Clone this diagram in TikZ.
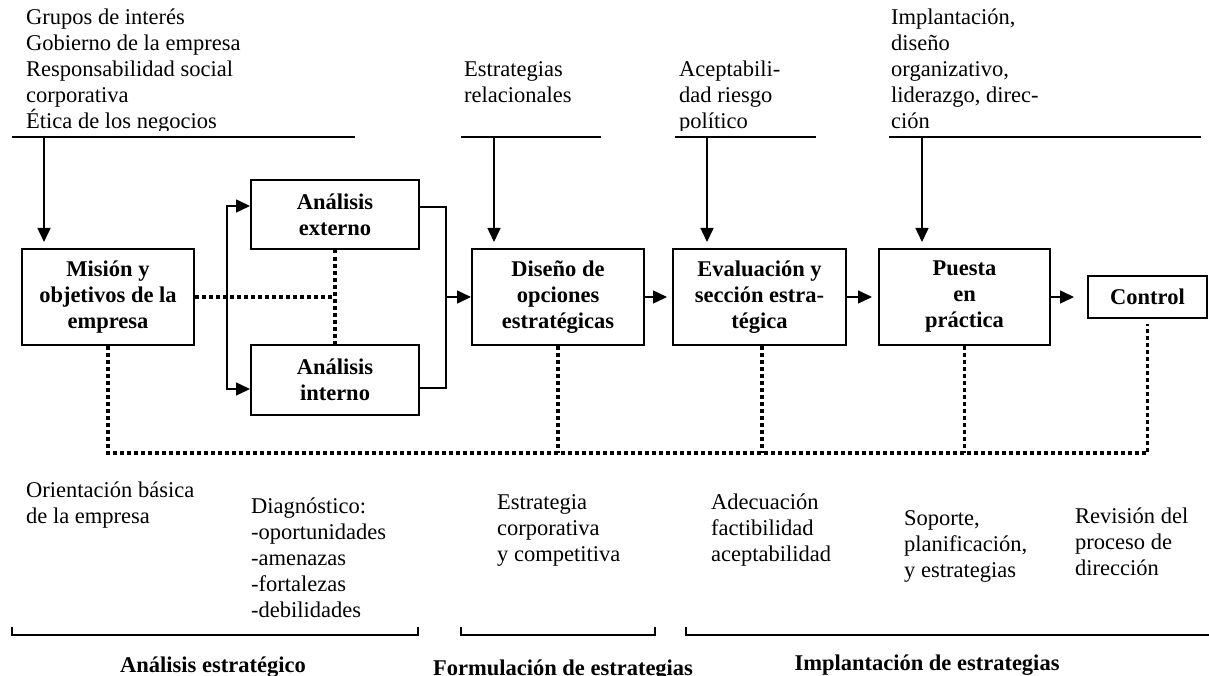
\documentclass[tikz,border=0pt]{standalone}
\usepackage{fontspec}
\setmainfont{Liberation Serif}
\usetikzlibrary{arrows.meta,calc}
\begin{document}
\begin{tikzpicture}[x=1pt,y=-1pt,
  box/.style={draw,line width=2pt,font=\fontsize{22.5}{26}\selectfont\bfseries,align=center,inner sep=0pt},
  txt/.style={font=\fontsize{22.5}{26}\selectfont,align=left,anchor=base west,inner sep=0pt},
  lbl/.style={font=\fontsize{22.5}{26}\selectfont\bfseries,anchor=base,inner sep=0pt},
  arr/.style={line width=1.5pt,-{Triangle[length=14pt,width=13pt]}},
  ln/.style={line width=1.5pt},
  dots/.style={line width=3.5pt,dash pattern=on 3.5pt off 3.5pt},
  brk/.style={line width=2pt}]
\useasboundingbox (0,0) rectangle (1209,676);

% top texts (clipped like the original text boxes); base = last line
\begin{scope}
\clip (0,0) rectangle (1209,130.5);
\node[txt] (tA) at (26,129) {Grupos de interés\\Gobierno de la empresa\\Responsabilidad social\\corporativa\\Ética de los negocios};
\node[txt] (tB) at (464,103) {Estrategias\\relacionales};
\node[txt] (tC) at (679,129) {Aceptabili-\\dad riesgo\\político};
\node[txt] (tD) at (891,129) {Implantación,\\diseño\\organizativo,\\liderazgo, direc-\\ción};
\end{scope}

% top lines
\coordinate (l1a) at (12,137);  \coordinate (l1b) at (355,137);
\coordinate (l2a) at (461,137); \coordinate (l2b) at (601,137);
\coordinate (l3a) at (675,137); \coordinate (l3b) at (816,137);
\coordinate (l4a) at (889,137); \coordinate (l4b) at (1201,137);
\draw[ln] (l1a) -- (l1b);
\draw[ln] (l2a) -- (l2b);
\draw[ln] (l3a) -- (l3b);
\draw[ln] (l4a) -- (l4b);

% boxes
\node[box,minimum width=172pt,minimum height=96pt] (mision) at (108,297) {Misión y\\objetivos de la\\empresa};
\node[box,minimum width=168pt,minimum height=69pt] (ext) at (335,214.5) {Análisis\\externo};
\node[box,minimum width=168pt,minimum height=70pt] (int) at (335,380) {Análisis\\interno};
\node[box,minimum width=172pt,minimum height=96pt] (dis) at (558,297) {Diseño de\\opciones\\estratégicas};
\node[box,minimum width=173pt,minimum height=96pt] (eva) at (759.5,297) {Evaluación y\\sección estra-\\tégica};
\node[box,minimum width=171pt,minimum height=96pt] (pue) at (964.5,297) {Puesta\\en\\práctica};
\node[box,minimum width=119pt,minimum height=42pt] (con) at (1147.5,297) {Control};

% arrows from the top lines
\coordinate (a1) at (44,137);
\coordinate (a2) at (494,137);
\coordinate (a3) at (707,137);
\coordinate (a4) at (922,137);
\draw[arr,shorten >=6pt] (a1) -- (a1 |- mision.north);
\draw[arr,shorten >=6pt] (a2) -- (a2 |- dis.north);
\draw[arr,shorten >=6pt] (a3) -- (a3 |- eva.north);
\draw[arr,shorten >=6pt] (a4) -- (a4 |- pue.north);

% brackets around the analysis boxes
\coordinate (lb) at (227,297);
\coordinate (rb) at (446,297);
\draw[arr] (lb) |- ($(ext.west)+(0,-8.5)$);
\draw[arr] (lb) |- ($(int.west)+(0,9)$);
\draw[ln] ($(ext.east)+(0,-7.5)$) -| (rb) |- ($(int.east)+(0,8)$);
\draw[arr] (rb) -- (dis.west);

% main flow
\draw[arr,shorten >=5pt] (dis.east) -- (eva.west);
\draw[arr,shorten >=6pt] (eva.east) -- (pue.west);
\draw[arr,shorten >=13pt] (pue.east) -- (con.west);

% dotted links
\draw[dots] (mision.east) -- (mision.east -| ext.south);
\draw[dots] (ext.south) -- (int.north);
\coordinate (fy) at (0,453);
\draw[dots] (mision.south) -- (mision.south |- fy) -- (fy -| con.south) -- ($(con.south)+(0,5)$);
\draw[dots] (dis.south) -- (dis.south |- fy);
\draw[dots] ($(eva.south)+(2.5,0)$) -- ($(eva.south |- fy)+(2.5,0)$);
\draw[dots] (pue.south) -- (pue.south |- fy);

% bottom texts (base = last line)
\node[txt] (bA) at (26,523) {Orientación básica\\de la empresa};
\node[txt] (bB) at (251,617) {Diagnóstico:\\-oportunidades\\-amenazas\\-fortalezas\\-debilidades};
\node[txt] (bC) at (497,561) {Estrategia\\corporativa\\y competitiva};
\node[txt] (bD) at (711,561) {Adecuación\\factibilidad\\aceptabilidad};
\node[txt] (bE) at (904,577) {Soporte,\\planificación,\\y estrategias};
\node[txt] (bF) at (1075,575) {Revisión del\\proceso de\\dirección};

% bottom brackets
\draw[brk] (12,627) -- (12,635) -- (418,635) -- (418,627);
\draw[brk] (461,627) -- (461,635) -- (655,635) -- (655,627);
\draw[brk] (686,627) -- (686,635) -- (1212,635);

\node[lbl] (sA) at (213,672) {Análisis estratégico};
\node[lbl] (sB) at (563,675) {Formulación de estrategias};
\node[lbl] (sC) at (927,670) {Implantación de estrategias};
\end{tikzpicture}
\end{document}
